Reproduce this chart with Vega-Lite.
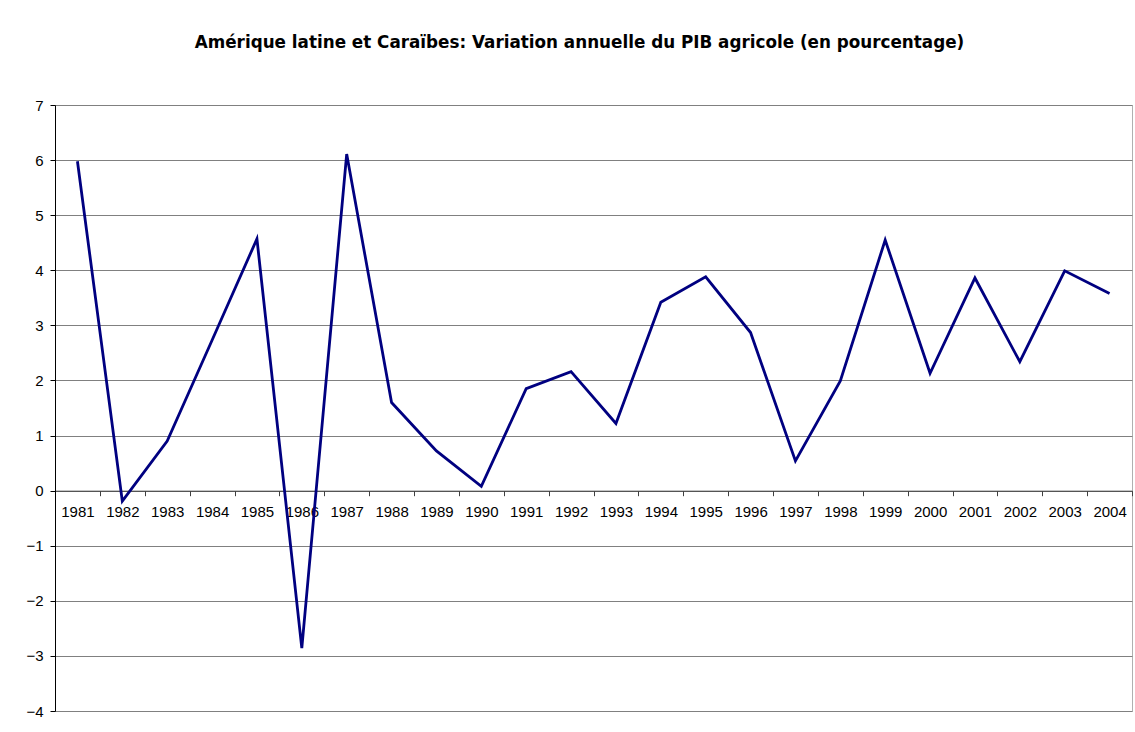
{
  "$schema": "https://vega.github.io/schema/vega-lite/v6.json",
  "width": 1077,
  "height": 606,
  "autosize": {"type": "none"},
  "padding": {"left": 55, "top": 105, "right": 3, "bottom": 21},
  "background": "white",
  "title": {
    "text": "Amérique latine et Caraïbes: Variation annuelle du PIB agricole (en pourcentage)",
    "font": "DejaVu Sans",
    "fontSize": 16.8,
    "fontWeight": "bold",
    "color": "#000000",
    "anchor": "middle",
    "dx": -14,
    "offset": 46
  },
  "data": {
    "values": [
      {"annee": "1981", "variation": 5.98},
      {"annee": "1982", "variation": -0.19},
      {"annee": "1983", "variation": 0.9},
      {"annee": "1984", "variation": 2.73},
      {"annee": "1985", "variation": 4.57},
      {"annee": "1986", "variation": -2.86},
      {"annee": "1987", "variation": 6.11},
      {"annee": "1988", "variation": 1.6},
      {"annee": "1989", "variation": 0.72},
      {"annee": "1990", "variation": 0.08},
      {"annee": "1991", "variation": 1.85},
      {"annee": "1992", "variation": 2.16},
      {"annee": "1993", "variation": 1.22},
      {"annee": "1994", "variation": 3.42},
      {"annee": "1995", "variation": 3.88},
      {"annee": "1996", "variation": 2.87},
      {"annee": "1997", "variation": 0.54},
      {"annee": "1998", "variation": 1.99},
      {"annee": "1999", "variation": 4.55},
      {"annee": "2000", "variation": 2.13},
      {"annee": "2001", "variation": 3.86},
      {"annee": "2002", "variation": 2.34},
      {"annee": "2003", "variation": 3.99},
      {"annee": "2004", "variation": 3.58}
    ]
  },
  "mark": {"type": "line", "color": "#000080", "strokeWidth": 2.8, "strokeJoin": "miter"},
  "encoding": {
    "x": {
      "field": "annee",
      "type": "ordinal",
      "scale": {"type": "band", "paddingInner": 0, "paddingOuter": 0},
      "axis": {
        "title": null,
        "orient": "bottom",
        "offset": -220.3,
        "labelAngle": 0,
        "tickBand": "extent",
        "grid": false,
        "tickSize": 5,
        "labelPadding": 9,
        "labelFont": "Liberation Sans",
        "labelFontSize": 15,
        "labelColor": "#000000",
        "domainColor": "#404040",
        "tickColor": "#404040",
        "labelOverlap": false
      }
    },
    "y": {
      "field": "variation",
      "type": "quantitative",
      "scale": {"domain": [-4, 7], "nice": false, "zero": false},
      "axis": {
        "title": null,
        "values": [-4, -3, -2, -1, 0, 1, 2, 3, 4, 5, 6, 7],
        "grid": true,
        "gridColor": "#808080",
        "gridWidth": 1.2,
        "tickSize": 5,
        "labelPadding": 7,
        "labelFont": "Liberation Sans",
        "labelFontSize": 15,
        "labelColor": "#000000",
        "domainColor": "#000000",
        "tickColor": "#000000"
      }
    }
  },
  "config": {
    "view": {"stroke": "#b0b0b0", "strokeWidth": 1}
  }
}
